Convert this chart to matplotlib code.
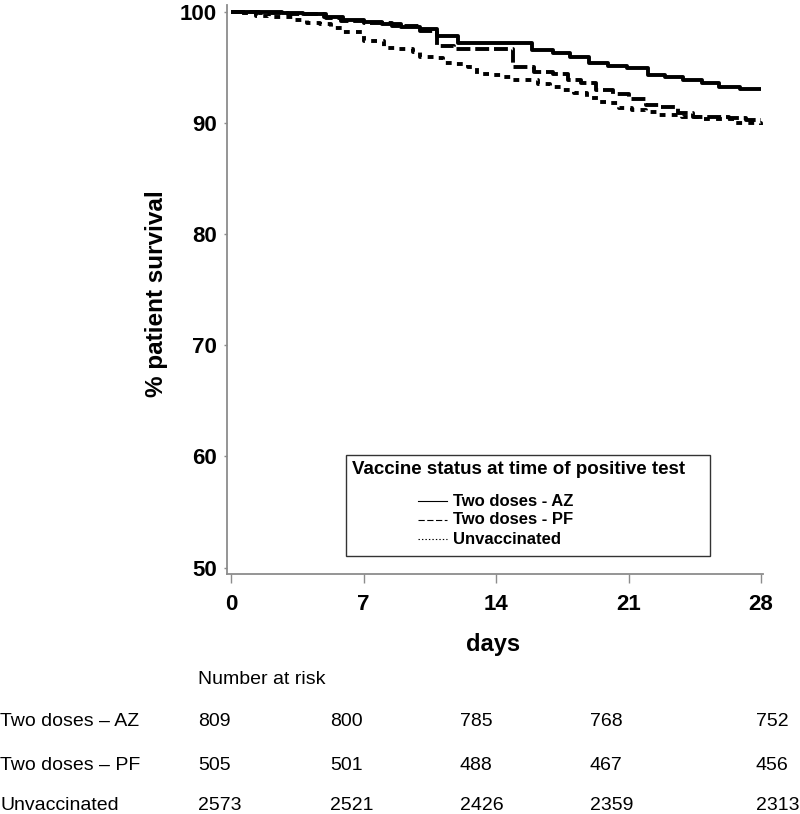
import matplotlib
matplotlib.use("Agg")
import matplotlib.pyplot as plt
from matplotlib.lines import Line2D
from matplotlib.patches import Rectangle

plt.rcParams['font.family'] = ['Liberation Sans', 'DejaVu Sans']
plt.rcParams['lines.scale_dashes'] = False

# ---- data ----
az_days = [0, 2.7, 3.8, 4.9, 5.9, 7.0, 8.0, 9.0, 10.0, 10.9, 12.0, 15.9, 17.0, 17.9,
           18.9, 19.9, 20.9, 22.0, 22.9, 23.9, 24.9, 25.8, 26.9, 28.0]
az_surv = [100.0, 99.9, 99.8, 99.55, 99.25, 99.1, 98.9, 98.65, 98.4, 97.8, 97.15, 96.55,
           96.3, 95.9, 95.4, 95.1, 94.95, 94.3, 94.1, 93.85, 93.6, 93.25, 93.05, 93.05]

pf_days = [0, 1.5, 3.0, 5.0, 5.8, 7.0, 8.5, 10.0, 10.9, 11.8, 14.9, 16.0, 17.0, 17.8,
           18.5, 19.3, 20.2, 21.0, 21.9, 22.7, 23.6, 24.4, 26.3, 27.2, 28.0]
pf_surv = [100.0, 99.9, 99.8, 99.4, 99.2, 98.95, 98.7, 98.3, 96.9, 96.6, 95.0, 94.6,
           94.4, 93.85, 93.6, 92.95, 92.6, 92.15, 91.6, 91.45, 90.9, 90.55, 90.45, 90.25, 90.25]

un_days = [0, 0.3, 1.3, 2.0, 3.4, 4.0, 4.7, 5.3, 5.9, 6.5, 7.0, 7.7, 8.1, 8.9, 9.6, 10.0,
           10.7, 11.2, 11.8, 12.5, 13.0, 13.7, 14.4, 14.9, 16.2, 16.85, 17.5, 18.1, 18.8,
           19.4, 19.9, 20.5, 21.2, 21.9, 22.5, 23.8, 24.7, 26.7, 28.0]
un_surv = [100.0, 99.85, 99.6, 99.55, 99.25, 98.95, 98.9, 98.55, 98.2, 98.15, 97.4, 97.35,
           96.75, 96.6, 96.4, 95.9, 95.8, 95.35, 95.3, 95.0, 94.4, 94.3, 94.1, 93.9, 93.5,
           93.2, 93.0, 92.65, 92.25, 91.9, 91.75, 91.3, 91.15, 91.0, 90.7, 90.55, 90.35,
           89.95, 89.8]

x_ticks = [0, 7, 14, 21, 28]
y_ticks = [50, 60, 70, 80, 90, 100]

legend_title = "Vaccine status at time of positive test"
group_labels = ["Two doses - AZ", "Two doses - PF", "Unvaccinated"]
risk_labels = ["Two doses \u2013 AZ", "Two doses \u2013 PF", "Unvaccinated"]
risk_az = [809, 800, 785, 768, 752]
risk_pf = [505, 501, 488, 467, 456]
risk_un = [2573, 2521, 2426, 2359, 2313]

# ---- figure ----
W, H = 800, 814
fig = plt.figure(figsize=(W / 100, H / 100), dpi=100)

def fx(px):
    return px / W

def fy(py):
    return 1 - py / H

ax = fig.add_axes([fx(227), fy(574), (763 - 227) / W, (574 - 5) / H])
ax.set_xlim(-0.21, 28.1)
ax.set_ylim(49.43, 100.6)

lw = 2.8
ax.plot(az_days, az_surv, drawstyle='steps-post', color='black', lw=lw,
        solid_capstyle='butt')
ax.plot(pf_days, pf_surv, drawstyle='steps-post', color='black', lw=lw,
        dashes=(10, 3.5), dash_capstyle='butt')
ax.plot(un_days, un_surv, drawstyle='steps-post', color='black', lw=lw,
        dashes=(4.2, 4.5), dash_capstyle='butt')

for s in ['top', 'right']:
    ax.spines[s].set_visible(False)
for s in ['left', 'bottom']:
    ax.spines[s].set_color('#8c8c8c')
    ax.spines[s].set_linewidth(1.3)

ax.set_xticks(x_ticks)
ax.set_yticks(y_ticks)
ax.tick_params(axis='x', direction='out', length=6.5, width=1, color='#8c8c8c',
               pad=8, labelsize=16)
ax.tick_params(axis='y', direction='out', length=2.5, width=1, color='#8c8c8c',
               pad=5, labelsize=16)
for lab in ax.get_xticklabels() + ax.get_yticklabels():
    lab.set_fontweight('bold')

fig.text(fx(156), fy(294), "% patient survival", rotation=90, ha='center', va='center',
         fontsize=17.5, fontweight='bold')
fig.text(fx(493), fy(645), "days", ha='center', va='center', fontsize=17,
         fontweight='bold')

# legend box
fig.add_artist(Rectangle((fx(346), fy(556)), (710 - 346) / W, (556 - 455) / H,
                         transform=fig.transFigure, fill=False, edgecolor='#333333',
                         lw=1))
fig.text(fx(352), fy(470), legend_title, ha='left', va='center', fontsize=13.5,
         fontweight='bold')
styles = [dict(ls='-'), dict(dashes=(4.5, 1.8)), dict(dashes=(1, 1.5))]
rows_y = [501, 520, 539]
for lab, st, ry in zip(group_labels, styles, rows_y):
    fig.add_artist(Line2D([fx(418), fx(447)], [fy(ry), fy(ry)], transform=fig.transFigure,
                          color='black', lw=0.8, **st))
    fig.text(fx(453), fy(ry), lab, ha='left', va='center', fontsize=12,
             fontweight='bold')

# number at risk table
fig.text(fx(198), fy(680), "Number at risk", ha='left', va='center', fontsize=14)
col_x = [198, 330, 460, 590, 756]
for ry, lab, vals in zip([722, 765, 806], risk_labels, [risk_az, risk_pf, risk_un]):
    fig.text(fx(0), fy(ry), lab, ha='left', va='center', fontsize=14)
    for cx, v in zip(col_x, vals):
        fig.text(fx(cx), fy(ry), str(v), ha='left', va='center', fontsize=14)

fig.savefig("out.png", dpi=100)
